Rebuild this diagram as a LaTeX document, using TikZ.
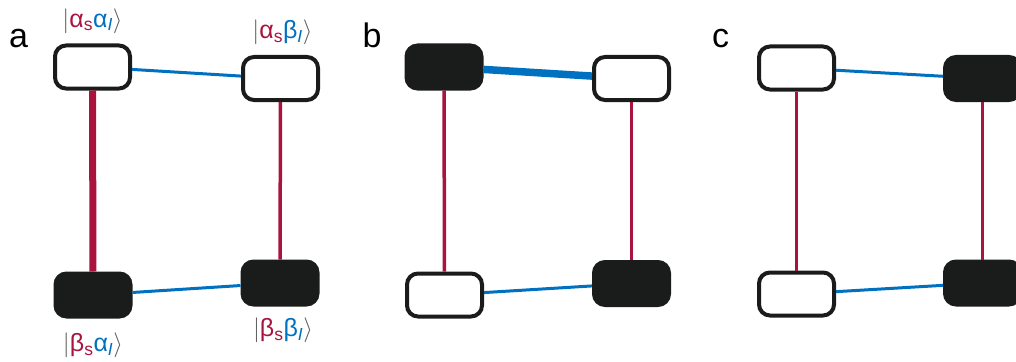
\documentclass[tikz,border=0pt]{standalone}
\usepackage{fontspec}
\setmainfont{Liberation Sans}
\usetikzlibrary{positioning}
\definecolor{spinred}{HTML}{A8143F}
\definecolor{spinblue}{HTML}{0070C0}
\definecolor{boxblack}{HTML}{1A1C1B}
\definecolor{ketgray}{HTML}{5A5A5A}
\newcommand{\ketlab}[2]{{\color{ketgray}$|$}#1#2{\color{ketgray}$\rangle$}}
\newcommand{\elspin}[1]{{\color{spinred}#1\textsubscript{s}}}
\newcommand{\nucspin}[1]{{\color{spinblue}#1\textsubscript{\textit{I}}}}
\tikzset{
  spinlevel/.style={rectangle, rounded corners=11pt, line width=4pt, draw=boxblack,
    minimum width=75pt, minimum height=43pt},
  emptylevel/.style={spinlevel, fill=white},
  fulllevel/.style={spinlevel, fill=boxblack},
  elec/.style={draw=spinred, line width=3.5pt},
  nuc/.style={draw=spinblue, line width=3pt},
  panel/.style={font=\fontsize{34}{40}\selectfont, anchor=base west, inner sep=0pt},
  ketlabel/.style={font=\fontsize{25}{30}\selectfont, inner sep=0pt}
}

\begin{document}
\begin{tikzpicture}[x=1pt,y=-1pt]
  \useasboundingbox (0,0) rectangle (1016,361);
  \clip (0,0) rectangle (1016,361);

  % a
  \node[panel] (pa) at (9,48) {a};
  \node[emptylevel] (a-aa) at (92.5,67) {};
  \node[emptylevel] (a-ab) at (280.5,78.5) {};
  \node[fulllevel] (a-ba) at (93,295) {};
  \node[fulllevel] (a-bb) at (280,283) {};
  \draw[elec, line width=7pt] (a-aa) -- (a-ba);
  \draw[elec] (a-ab) -- (a-bb);
  \draw[nuc] (a-aa) -- (a-ab);
  \draw[nuc] (a-ba) -- (a-bb);
  \node[ketlabel, above=10pt of a-aa] (k-aa) {\ketlab{\elspin{α}}{\nucspin{α}}};
  \node[ketlabel, above=10pt of a-ab, xshift=2pt] (k-ab) {\ketlab{\elspin{α}}{\nucspin{β}}};
  \node[ketlabel, below=14pt of a-ba] (k-ba) {\ketlab{\elspin{β}}{\nucspin{α}}};
  \node[ketlabel, below=11pt of a-bb, xshift=3pt] (k-bb) {\ketlab{\elspin{β}}{\nucspin{β}}};

  % b
  \begin{scope}[xshift=351.5pt]
    \node[panel] (pb) at (11,48) {b};
    \node[fulllevel] (b-aa) at (92.5,67) {};
    \node[emptylevel] (b-ab) at (280,78.5) {};
    \node[emptylevel] (b-ba) at (93,295) {};
    \node[fulllevel] (b-bb) at (280,283.5) {};
    \draw[elec] (b-aa) -- (b-ba);
    \draw[elec] (b-ab) -- (b-bb);
    \draw[nuc, line width=7.5pt] (b-aa) -- (b-ab);
    \draw[nuc] (b-ba) -- (b-bb);
  \end{scope}

  % c
  \begin{scope}[xshift=704pt]
    \node[panel] (pc) at (8,48) {c};
    \node[emptylevel] (c-aa) at (92.5,68) {};
    \node[fulllevel] (c-ab) at (278.5,78.5) {};
    \node[emptylevel] (c-ba) at (92.5,294) {};
    \node[fulllevel] (c-bb) at (278.5,283) {};
    \draw[elec] (c-aa) -- (c-ba);
    \draw[elec] (c-ab) -- (c-bb);
    \draw[nuc] (c-aa) -- (c-ab);
    \draw[nuc] (c-ba) -- (c-bb);
  \end{scope}
\end{tikzpicture}
\end{document}
